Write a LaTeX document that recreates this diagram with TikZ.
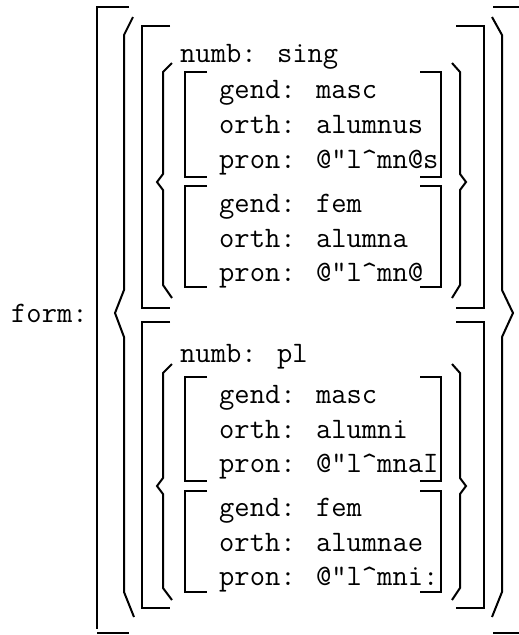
\documentclass[tikz,border=0pt]{standalone}
\tikzset{
  bar/.style={line width=2pt},
  feat/.style={anchor=base west, inner sep=0pt,
    font=\ttfamily\fontsize{29.7}{35}\selectfont}
}
\newcommand{\caret}{\textasciicircum{}}
\begin{document}
\begin{tikzpicture}[x=1pt,y=-1pt]
  \useasboundingbox (0,0) rectangle (519,635);
  % outer square brackets and angles
  \draw[bar] (129,7) -- (97,7) -- (97,629); \draw[bar] (97,633) -- (129,633);
  \draw[bar] (493,7) -- (519,7); \draw[bar] (493,633) -- (519,633);
  \draw[bar] (133,17) -- (124,35) -- (124,290) -- (115,313) -- (124,337)
    -- (124,592) -- (134,617);
  \draw[bar] (492,17) -- (502,35) -- (502,290) -- (513,313) -- (502,337)
    -- (502,592) -- (492,617);
  % second level
  \draw[bar] (170,26) -- (142,26) -- (142,308) -- (170,308);
  \draw[bar] (456,26) -- (484,26) -- (484,308) -- (456,308);
  \draw[bar] (170,322) -- (142,322) -- (142,608) -- (170,608);
  \draw[bar] (456,322) -- (484,322) -- (484,608) -- (456,608);
  % set angles
  \draw[bar] (172,63) -- (163,72) -- (163,174) -- (157,182) -- (163,190)
    -- (163,285) -- (172,298);
  \draw[bar] (452,63) -- (460,72) -- (460,174) -- (466,182) -- (460,190)
    -- (460,285) -- (452,298);
  \draw[bar] (172,364) -- (163,373) -- (163,478) -- (157,486) -- (163,494)
    -- (163,588) -- (172,600);
  \draw[bar] (452,364) -- (460,373) -- (460,478) -- (466,486) -- (460,494)
    -- (460,588) -- (452,600);
  % inner boxes
  \foreach \t/\b in {72/177, 186/287, 377/481, 491/592} {
    \draw[bar] (207,\t) -- (185,\t) -- (185,\b) -- (207,\b);
    \draw[bar] (420,\t) -- (441,\t) -- (441,\b) -- (420,\b);
  }
  % features
  \node[feat] (form) at (11,322) {form:};
  \node[feat] (numbsg) at (180,62) {numb: sing};
  \node[feat] (gendm) at (219,98) {gend: masc};
  \node[feat] (orthm) at (219,133) {orth: alumnus};
  \node[feat] (pronm) at (219,168) {pron: @"l\caret mn@s};
  \node[feat] (gendf) at (219,212) {gend: fem};
  \node[feat] (orthf) at (219,247) {orth: alumna};
  \node[feat] (pronf) at (219,281) {pron: @"l\caret mn@};
  \node[feat] (numbpl) at (180,362) {numb: pl};
  \node[feat] (gendmp) at (219,403) {gend: masc};
  \node[feat] (orthmp) at (219,438) {orth: alumni};
  \node[feat] (pronmp) at (219,472) {pron: @"l\caret mnaI};
  \node[feat] (gendfp) at (219,516) {gend: fem};
  \node[feat] (orthfp) at (219,551) {orth: alumnae};
  \node[feat] (pronfp) at (219,585) {pron: @"l\caret mni:};
\end{tikzpicture}
\end{document}
